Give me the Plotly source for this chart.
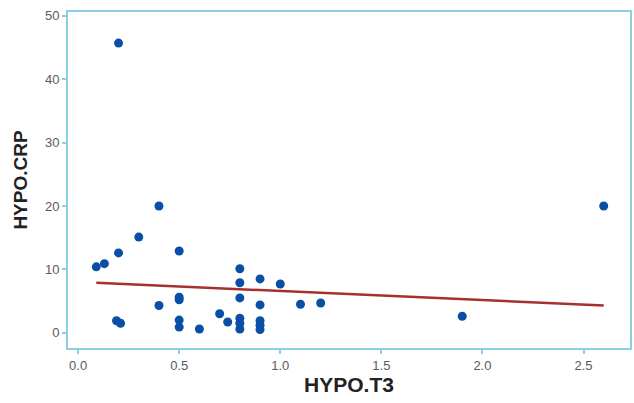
import plotly.graph_objects as go

# HYPO.T3 vs HYPO.CRP observations
hypo_t3 = [0.20, 0.40, 0.30, 0.20, 0.50, 0.09, 0.13, 0.40, 0.50, 0.50,
           0.19, 0.21, 0.50, 0.50, 0.60, 0.70, 0.74, 0.80, 0.80, 0.80,
           0.80, 0.80, 0.80, 0.90, 0.90, 0.90, 0.90, 0.90, 1.00, 1.10,
           1.20, 1.90, 2.60]
hypo_crp = [45.7, 20.0, 15.1, 12.6, 12.9, 10.4, 10.9, 4.3, 5.6, 5.2,
            1.9, 1.5, 2.0, 0.9, 0.6, 3.0, 1.7, 10.1, 7.9, 5.5,
            2.3, 1.5, 0.6, 8.5, 4.4, 1.9, 1.2, 0.5, 7.7, 4.5,
            4.7, 2.6, 20.0]

# Linear fit line endpoints
fit_x = [0.09, 2.60]
fit_y = [7.9, 4.3]

x_ticks = [0.0, 0.5, 1.0, 1.5, 2.0, 2.5]
y_ticks = [0, 10, 20, 30, 40, 50]

axis_blue = "#8ccfe3"

fig = go.Figure()
fig.add_trace(go.Scatter(
    x=fit_x, y=fit_y, mode="lines",
    line=dict(color="#a5302c", width=2.5),
    showlegend=False, hoverinfo="skip",
))
fig.add_trace(go.Scatter(
    x=hypo_t3, y=hypo_crp, mode="markers",
    marker=dict(color="#0a4fa6", size=9, line=dict(width=0)),
    showlegend=False,
))

fig.update_layout(
    width=634, height=403,
    margin=dict(l=68, r=2, t=12, b=55),
    paper_bgcolor="white", plot_bgcolor="white",
    font=dict(family="Liberation Sans, Arial, sans-serif", color="#555555"),
    xaxis=dict(
        range=[-0.05, 2.73], tickvals=x_ticks,
        ticktext=[f"{v:.1f}" for v in x_ticks],
        showgrid=False, zeroline=False,
        showline=True, linecolor=axis_blue, linewidth=2, mirror=True,
        ticks="outside", ticklen=4, tickcolor=axis_blue, tickwidth=1.5,
        tickfont=dict(size=13, color="#5a5a5a"),
        title=dict(text="<b>HYPO.T3</b>", font=dict(size=21, color="#222222"), standoff=6),
    ),
    yaxis=dict(
        range=[-2.4, 50.6], tickvals=y_ticks,
        showgrid=False, zeroline=False,
        showline=True, linecolor=axis_blue, linewidth=2, mirror=True,
        ticks="outside", ticklen=4, tickcolor=axis_blue, tickwidth=1.5,
        tickfont=dict(size=13, color="#5a5a5a"),
        title=dict(text="<b>HYPO.CRP</b>", font=dict(size=19, color="#222222"), standoff=12),
    ),
)

fig.write_html("out.html")
